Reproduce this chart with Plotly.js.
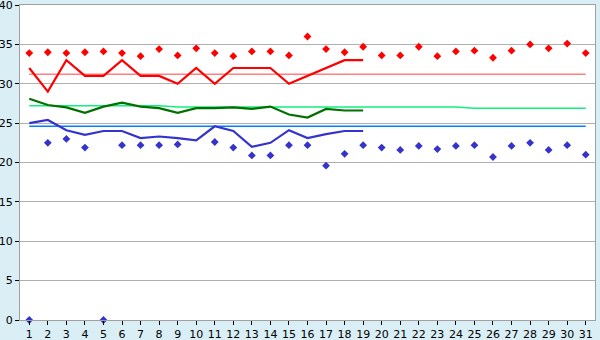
<!DOCTYPE html>
<html>
<head>
<meta charset="utf-8">
<script src="https://cdn.plot.ly/plotly-3.0.1.min.js"></script>
<style>html,body{margin:0;padding:0;background:#DAEEF5;}#chart{width:600px;height:340px;}</style>
</head>
<body>
<div id="chart"></div>
<script>
const days = Array.from({length: 31}, (_, i) => i + 1);
const lineDays = days.slice(0, 19);

const redMarkers = [33.9,34.0,33.9,34.0,34.1,33.9,33.5,34.4,33.6,34.5,33.9,33.5,34.1,34.1,33.6,36.0,34.4,34.0,34.7,33.6,33.6,34.7,33.5,34.1,34.2,33.3,34.2,35.0,34.5,35.1,33.9];
const redLine = [32,29,33,31,31,33,31,31,30,32,30,32,32,32,30,31,32,33,33];
const redAvg = Array(31).fill(31.2);

const greenLine = [28.1,27.3,27.0,26.3,27.1,27.6,27.1,26.9,26.3,26.9,26.9,27.0,26.8,27.1,26.1,25.7,26.8,26.6,26.6];
const greenAvg = [27.2,27.2,27.2,27.2,27.2,27.2,27.2,27.2,27.05,27.05,27.05,27.05,27.05,27.05,27.05,27.05,27.05,27.05,27.05,27.05,27.05,27.05,27.05,27.05,26.9,26.9,26.9,26.9,26.9,26.9,26.9];

const blueLine = [25.0,25.4,24.1,23.5,24.0,24.0,23.1,23.3,23.1,22.8,24.6,24.0,22.0,22.5,24.1,23.1,23.6,24.0,24.0];
const blueAvg = Array(31).fill(24.6);
const blueMarkers = [0,22.5,23.0,21.9,0,22.2,22.2,22.2,22.3,null,22.6,21.9,20.9,20.9,22.2,22.2,19.6,21.1,22.2,21.9,21.6,22.1,21.7,22.1,22.2,20.7,22.1,22.5,21.6,22.2,21.0];

const yTicks = [0,5,10,15,20,25,30,35,40];

const traces = [
  {x: days, y: redAvg, mode: 'lines', line: {color: '#FF8080', width: 1.5}, hoverinfo: 'skip'},
  {x: days, y: greenAvg, mode: 'lines', line: {color: '#10F080', width: 1.5}, hoverinfo: 'skip'},
  {x: days, y: blueAvg, mode: 'lines', line: {color: '#0080FF', width: 1.5}, hoverinfo: 'skip'},
  {x: lineDays, y: redLine, mode: 'lines', line: {color: '#FF0000', width: 2.2}},
  {x: lineDays, y: greenLine, mode: 'lines', line: {color: '#007000', width: 2.2}},
  {x: lineDays, y: blueLine, mode: 'lines', line: {color: '#3434CC', width: 2.2}},
  {x: days, y: redMarkers, mode: 'markers', marker: {symbol: 'diamond', size: 6, color: '#FF0000'}},
  {x: days, y: blueMarkers, mode: 'markers', cliponaxis: false, marker: {symbol: 'diamond', size: 6, color: '#3434CC'}}
];

const layout = {
  width: 600, height: 340,
  margin: {l: 20, r: 5, t: 5, b: 20},
  paper_bgcolor: '#DAEEF5',
  plot_bgcolor: '#FFFFFF',
  showlegend: false,
  font: {family: 'DejaVu Sans', size: 11, color: '#000'},
  xaxis: {
    range: [0.5, 31.5], tickmode: 'array', tickvals: days, ticktext: days.map(String),
    showgrid: false, zeroline: false, showline: true, linecolor: '#A0A0A0', mirror: true,
    ticks: 'outside', ticklen: 4, tickcolor: '#000', tickfont: {size: 11},
    ticklabeloverflow: 'allow'
  },
  yaxis: {
    range: [0, 40], tickmode: 'array', tickvals: yTicks, ticktext: yTicks.map(String),
    showgrid: true, gridcolor: '#B0B0B0', gridwidth: 1, zeroline: false,
    showline: true, linecolor: '#A0A0A0', mirror: true,
    ticks: 'outside', ticklen: 4, tickcolor: '#000', tickfont: {size: 11},
    ticklabeloverflow: 'allow'
  }
};

Plotly.newPlot('chart', traces, layout, {staticPlot: true, displayModeBar: false});
</script>
</body>
</html>
